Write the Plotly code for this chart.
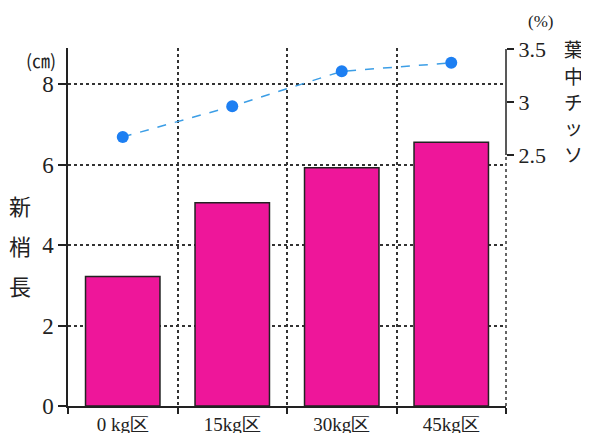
import plotly.graph_objects as go

categories = ["0 kg区", "15kg区", "30kg区", "45kg区"]
shoot_length = [3.22, 5.05, 5.92, 6.56]
leaf_nitrogen = [2.67, 2.96, 3.29, 3.37]
left_ticks = [0, 2, 4, 6, 8]
right_ticks = [2.5, 3, 3.5]
right_tick_labels = ["2.5", "3", "3.5"]

serif = "Liberation Serif, Times New Roman, serif"
jp = "Noto Sans CJK JP, sans-serif"

fig = go.Figure()
fig.add_trace(go.Bar(
    x=categories, y=shoot_length, width=0.68,
    marker=dict(color="#EE169A", line=dict(color="#222222", width=1.5)),
    showlegend=False, yaxis="y"))
fig.add_trace(go.Scatter(
    x=categories, y=leaf_nitrogen, mode="lines+markers", yaxis="y2",
    line=dict(color="#3C9EE6", width=1.5, dash="dash"),
    marker=dict(color="#1D7FF2", size=12), showlegend=False))

fig.update_layout(
    width=589, height=433,
    margin=dict(l=60, r=91, t=40, b=35, autoexpand=False),
    paper_bgcolor="white", plot_bgcolor="white",
    xaxis=dict(
        automargin=False,
        tickson="boundaries", ticks="outside", ticklen=6, tickwidth=1.5,
        tickcolor="#222", showline=True, linecolor="#222", linewidth=1.5,
        showgrid=True, gridcolor="#333", griddash="dot", gridwidth=1.5,
        tickfont=dict(family=serif, size=19, color="#222"),
        range=[-0.5, 3.5]),
    yaxis=dict(
        automargin=False,
        range=[0, 8.9], tickvals=left_ticks, ticks="outside", ticklen=8,
        tickwidth=1.5, tickcolor="#222", showline=True, linecolor="#222",
        linewidth=1.5, showgrid=True, gridcolor="#333", griddash="dot",
        gridwidth=1.5, zeroline=False,
        tickfont=dict(family=serif, size=23, color="#222")),
    yaxis2=dict(
        automargin=False,
        overlaying="y", side="right", range=[0.13, 3.51],
        tickvals=right_ticks, ticktext=right_tick_labels,
        ticks="outside", ticklen=7, tickwidth=1.5, tickcolor="#222",
        showline=False, showgrid=False, zeroline=False,
        tickfont=dict(family=serif, size=22, color="#222")),
)

# right axis line spanning only 2.5-3.5
fig.add_shape(type="line", xref="paper", yref="y2", x0=1, x1=1,
              y0=2.5, y1=3.5, line=dict(color="#222", width=1.5))
# dotted right boundary below 2.5
fig.add_shape(type="line", xref="paper", yref="y2", x0=1, x1=1,
              y0=0.13, y1=2.5, line=dict(color="#333", width=1.5, dash="dot"))

fig.add_annotation(text="(㎝)", xref="paper", yref="paper", x=-0.062, y=0.966,
                   showarrow=False, font=dict(family=jp, size=18, color="#222"),
                   xanchor="center", yanchor="middle")
fig.add_annotation(text="(%)", xref="paper", yref="paper", x=1.078, y=1.073,
                   showarrow=False, font=dict(family=serif, size=17, color="#222"),
                   xanchor="center", yanchor="middle")

left_title = ["新", "梢", "長"]
for i, ch in enumerate(left_title):
    fig.add_annotation(text=ch, xref="paper", yref="paper", x=-0.11,
                       y=(406 - 205 - 40 * i) / 358, showarrow=False,
                       font=dict(family=jp, size=22, color="#222"),
                       xanchor="center", yanchor="middle")

right_title = ["葉", "中", "チ", "ッ", "ソ"]
right_y = [48, 75, 101, 127, 153]
for ch, yy in zip(right_title, right_y):
    fig.add_annotation(text=ch, xref="paper", yref="paper", x=1.155,
                       y=(406 - yy) / 358, showarrow=False,
                       font=dict(family=jp, size=19, color="#222"),
                       xanchor="center", yanchor="middle")

fig.write_html("out.html")
